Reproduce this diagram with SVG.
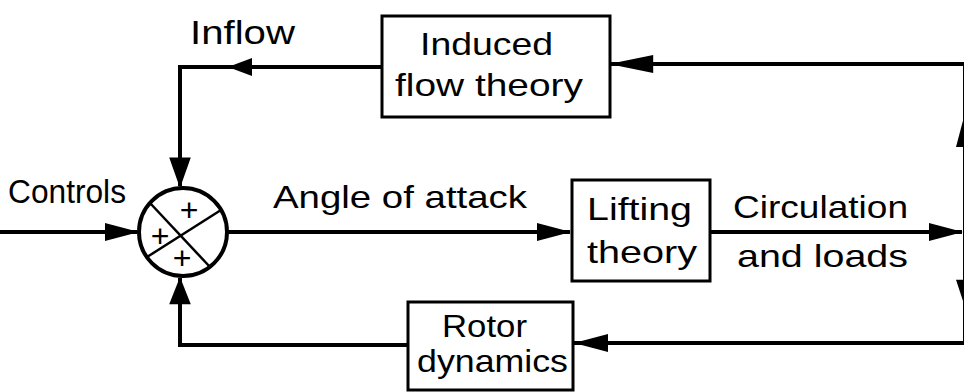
<svg xmlns="http://www.w3.org/2000/svg" xmlns:xlink="http://www.w3.org/1999/xlink" width="964" height="392" viewBox="0 0 964 392">
<style>
.bg{fill:#fff}
.box{fill:none;stroke:#000;stroke-width:3}
.line{fill:none;stroke:#000;stroke-width:4;stroke-linejoin:miter}
.arrow{fill:#000;stroke:none}
.lbl{font-family:"Liberation Sans",Arial,sans-serif;font-size:32px;fill:#000}
.sum{fill:#fff;stroke:#000;stroke-width:4}
.div{stroke:#000;stroke-width:2.5}
.plus{font-family:"Liberation Sans",Arial,sans-serif;font-size:32px;fill:#000;text-anchor:middle}
</style>
<defs>
<path id="ah" d="M0,0 L-34,-9 L-34,9 Z"/>
<path id="ahs" d="M0,0 L-24,-9 L-24,9 Z"/>
</defs>
<rect class="bg" x="0" y="0" width="964" height="392"/>

<g id="connectors">
<path class="line" d="M382,67 H180 V186"/>
<path class="line" d="M0,232 H137"/>
<path class="line" d="M228,232 H570"/>
<path class="line" d="M710,232 H962"/>
<path class="line" d="M965,64 V343"/>
<path class="line" d="M965,64 H610"/>
<path class="line" d="M965,343 H574"/>
<path class="line" d="M408,345 H180 V278"/>
<use class="arrow" xlink:href="#ahs" href="#ahs" transform="translate(228,67) rotate(180)"/>
<use class="arrow" xlink:href="#ah" href="#ah" transform="translate(180,188) rotate(90) scale(0.9,1.2)"/>
<use class="arrow" xlink:href="#ah" href="#ah" transform="translate(139,232)"/>
<use class="arrow" xlink:href="#ah" href="#ah" transform="translate(571,232)"/>
<use class="arrow" xlink:href="#ah" href="#ah" transform="translate(963,232)"/>
<use class="arrow" xlink:href="#ah" href="#ah" transform="translate(609,64) rotate(180) scale(1.3,1)"/>
<use class="arrow" xlink:href="#ah" href="#ah" transform="translate(965,113) rotate(-90)"/>
<use class="arrow" xlink:href="#ah" href="#ah" transform="translate(965,307) rotate(90) scale(0.8,1)"/>
<use class="arrow" xlink:href="#ah" href="#ah" transform="translate(574,343) rotate(180)"/>
<use class="arrow" xlink:href="#ah" href="#ah" transform="translate(180,277) rotate(-90) scale(0.8,1.2)"/>
</g>

<g id="label-inflow">
<text class="lbl" x="190" y="44" textLength="105" lengthAdjust="spacingAndGlyphs" style="font-size:34px">Inflow</text>
</g>
<g id="label-controls">
<text class="lbl" x="8" y="203" textLength="118" lengthAdjust="spacingAndGlyphs" style="font-size:33px">Controls</text>
</g>
<g id="label-angle">
<text class="lbl" x="273" y="208" textLength="254" lengthAdjust="spacingAndGlyphs">Angle of attack</text>
</g>
<g id="label-circulation">
<text class="lbl" x="733" y="218" textLength="175" lengthAdjust="spacingAndGlyphs">Circulation</text>
<text class="lbl" x="737" y="267" textLength="171" lengthAdjust="spacingAndGlyphs">and  loads</text>
</g>

<g id="node-induced">
<rect class="box" x="382" y="16" width="228" height="101"/>
<text class="lbl" x="420" y="55" textLength="133" lengthAdjust="spacingAndGlyphs">Induced</text>
<text class="lbl" x="395" y="96" textLength="188" lengthAdjust="spacingAndGlyphs">flow theory</text>
</g>

<g id="node-lifting">
<rect class="box" x="572" y="180" width="138" height="101"/>
<text class="lbl" x="587" y="220" textLength="105" lengthAdjust="spacingAndGlyphs">Lifting</text>
<text class="lbl" x="587" y="263" textLength="110" lengthAdjust="spacingAndGlyphs">theory</text>
</g>

<g id="node-rotor">
<rect class="box" x="408" y="302" width="165" height="88"/>
<text class="lbl" x="442" y="337" textLength="85" lengthAdjust="spacingAndGlyphs">Rotor</text>
<text class="lbl" x="417" y="372" textLength="151" lengthAdjust="spacingAndGlyphs">dynamics</text>
</g>

<g id="node-sum">
<circle class="sum" cx="183" cy="232" r="44"/>
<line class="div" x1="150" y1="203" x2="210" y2="267"/>
<line class="div" x1="221" y1="210" x2="147" y2="257"/>
<text class="plus" x="189" y="221">+</text>
<text class="plus" x="160" y="247">+</text>
<text class="plus" x="182" y="269">+</text>
</g>
</svg>
